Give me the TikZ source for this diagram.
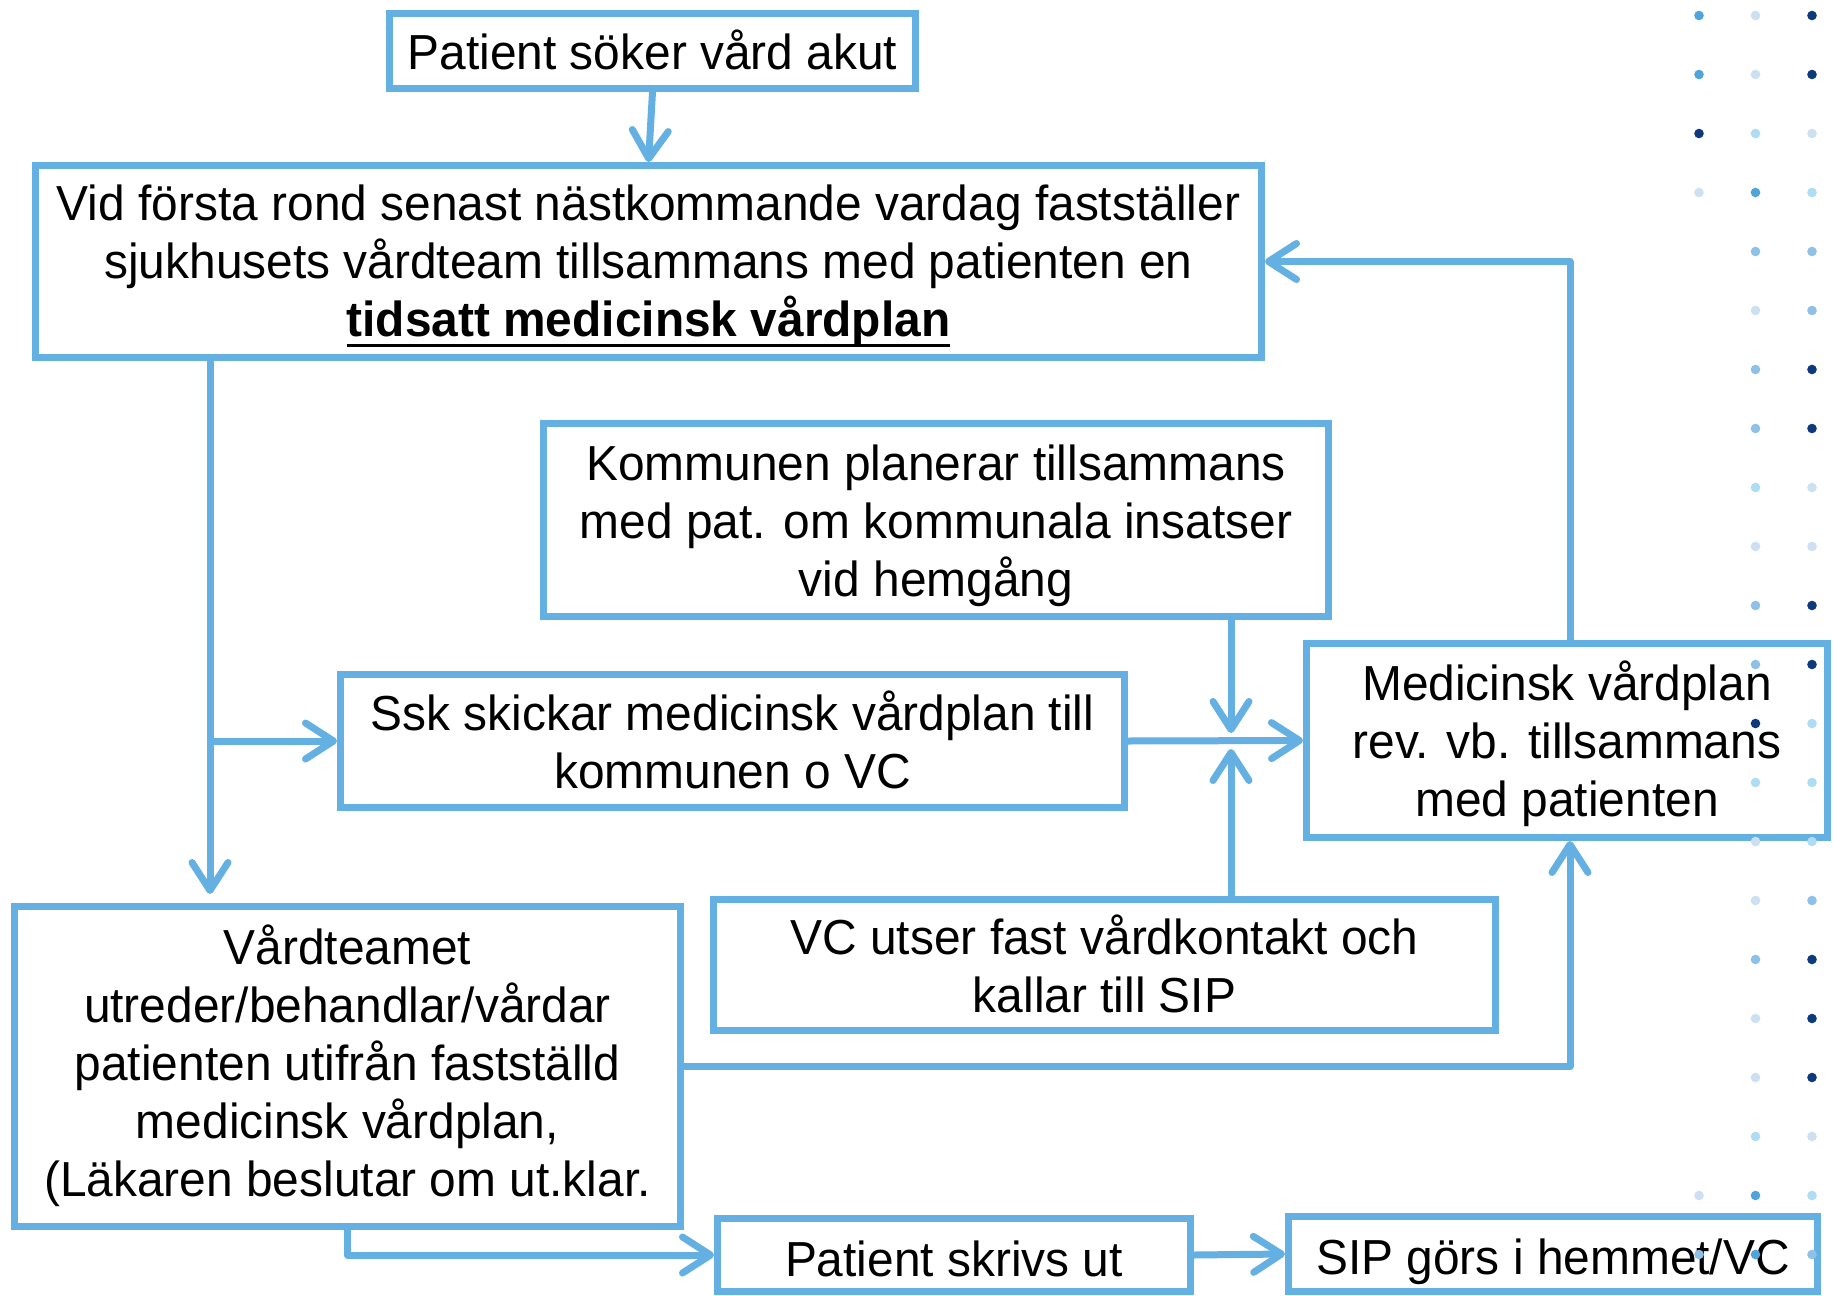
\documentclass[tikz,border=0pt]{standalone}
\usepackage{fontspec}
\setmainfont{Liberation Sans}[FakeStretch=0.973]
\newcommand{\myuline}[1]{\setbox0\hbox{#1}\rlap{\rule[-5pt]{\wd0}{1.6pt}}\box0}
\newcommand{\tp}[1]{\rule{0pt}{#1}}
\newcommand{\bt}{\rule[-6pt]{0pt}{6pt}}
\usetikzlibrary{arrows.meta}
\definecolor{lnblue}{RGB}{100,176,227}
\definecolor{dD}{RGB}{14,58,125}
\definecolor{dM}{RGB}{80,164,218}
\definecolor{dML}{RGB}{143,192,229}
\definecolor{dLC}{RGB}{174,220,243}
\definecolor{dVL}{RGB}{204,224,242}
\begin{document}
\begin{tikzpicture}[x=0.5pt,y=-0.5pt,
  box/.style={draw=lnblue, line width=3.5pt, inner sep=0pt, align=center,
    font=\fontsize{24.6}{29}\selectfont},
  arr/.style={draw=lnblue, line width=3.5pt, line join=round,
    -{Straight Barb[length=14pt,width=18pt,round]}}]
\fill[white] (0,0) rectangle (1833,1296);
\useasboundingbox (0,0) rectangle (1833,1296);

% boxes
\node[box, minimum width=263pt, minimum height=37.5pt] (A) at (652.5,51)
  {\tp{24.3pt}Patient söker vård akut\bt};
\node[box, minimum width=613pt, minimum height=96pt] (B) at (648.5,261.5)
  {\tp{23.2pt}Vid första rond senast nästkommande vardag fastställer\\
   sjukhusets vårdteam tillsammans med patienten en\\
   \myuline{\textbf{tidsatt medicinsk vårdplan}}\bt};
\node[box, minimum width=392.5pt, minimum height=96.5pt] (C) at (936,519.5)
  {\tp{25pt}Kommunen planerar tillsammans\\ med pat. om kommunala insatser\\ vid hemgång\bt};
\node[box, minimum width=392pt, minimum height=66.5pt] (D) at (732.5,741)
  {\tp{24.4pt}Ssk skickar medicinsk vårdplan till\\ kommunen o VC\bt};
\node[box, minimum width=260.5pt, minimum height=97pt] (E) at (1567,740.5)
  {\tp{24.2pt}Medicinsk vårdplan\\ rev. vb. tillsammans\\ med patienten\bt};
\node[box, minimum width=391pt, minimum height=65.5pt] (F) at (1104.5,965)
  {\tp{24.8pt}VC utser fast vårdkontakt och\\ kallar till SIP\bt};
\node[box, minimum width=333pt, minimum height=160pt] (G) at (347.5,1066.5)
  {\tp{18.6pt}Vårdteamet\\ utreder/behandlar/vårdar\\ patienten utifrån fastställd\\ medicinsk vårdplan,\\ (Läkaren beslutar om ut.klar.\bt};
\node[box, minimum width=236.5pt, minimum height=36.5pt] (H) at (954,1255)
  {\tp{27pt}Patient skrivs ut\bt};
\node[box, minimum width=264.5pt, minimum height=37.5pt] (I) at (1553,1254)
  {\tp{26.6pt}SIP görs i hemmet/VC\bt};

% helper coordinates
\coordinate (vx) at (210,894);
\coordinate (jn) at (1231,733);
\coordinate (js) at (1231,749);
\coordinate (ex) at (1570,0);

% connectors
\draw[arr] (A.south) -- (B.north);
\draw[arr] (B.south -| vx) -- (vx);
\draw[arr] (D.west -| vx) -- (D.west);
\draw[arr] (D.east) -- (E.west);
\draw[arr] (C.south -| jn) -- (jn);
\draw[arr] (F.north -| js) -- (js);
\draw[arr] (E.north -| ex) |- (B.east);
\draw[arr] (G.east) -| (E.south -| ex);
\draw[arr] (G.south) |- (H.west);
\draw[arr] (H.east) -- (I.west);

% decorative dots
\foreach \r/\c/\col in {
 1/1/dM, 1/2/dVL, 1/3/dD,
 2/1/dM, 2/2/dVL, 2/3/dD,
 3/1/dD, 3/2/dLC, 3/3/dVL,
 4/1/dVL, 4/2/dM, 4/3/dLC,
 5/2/dML, 5/3/dML,
 6/2/dVL, 6/3/dML,
 7/2/dML, 7/3/dD,
 8/2/dML, 8/3/dD,
 9/2/dLC, 9/3/dVL,
 10/2/dVL, 10/3/dVL,
 11/2/dML, 11/3/dD,
 12/2/dML, 12/3/dD,
 13/2/dD, 13/3/dLC,
 14/2/dLC, 14/3/dLC,
 15/2/dVL, 15/3/dLC,
 16/2/dVL, 16/3/dML,
 17/2/dML, 17/3/dD,
 18/2/dVL, 18/3/dD,
 19/2/dVL, 19/3/dD,
 20/2/dLC, 20/3/dVL,
 21/1/dVL, 21/2/dM, 21/3/dLC,
 22/1/dML, 22/2/dM, 22/3/dML}
  \fill[\col] ({1699+56.5*(\c-1)},{15.5+59*(\r-1)}) circle[radius=2.4pt];
\end{tikzpicture}
\end{document}
